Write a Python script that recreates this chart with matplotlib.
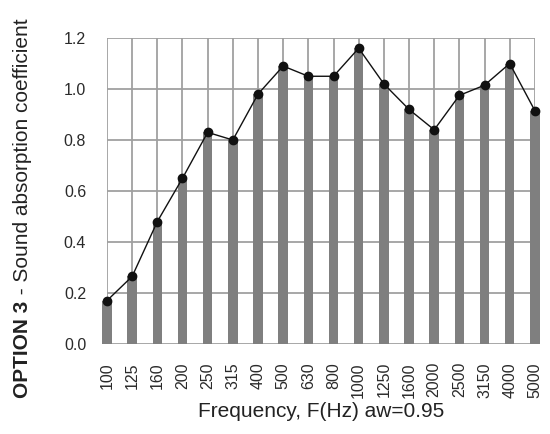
import matplotlib
matplotlib.use("Agg")
import matplotlib.pyplot as plt

plt.rcParams['font.family'] = ['Liberation Sans', 'DejaVu Sans']

# third-octave bands and measured absorption
freqs = ['100', '125', '160', '200', '250', '315', '400', '500', '630', '800',
         '1000', '1250', '1600', '2000', '2500', '3150', '4000', '5000']
alpha = [0.17, 0.265, 0.48, 0.65, 0.83, 0.80, 0.98, 1.09, 1.05, 1.05,
         1.16, 1.02, 0.92, 0.84, 0.975, 1.015, 1.10, 0.915]
yticks = [0.0, 0.2, 0.4, 0.6, 0.8, 1.0, 1.2]

fig = plt.figure(figsize=(5.5, 4.34), dpi=100)
ax = fig.add_axes([0.1945, 0.2074, 0.778, 0.705])

x = list(range(len(freqs)))
ax.bar(x, alpha, width=0.38, color='#7f7f7f', zorder=2, clip_on=False)
ax.plot(x, alpha, color='#111111', lw=1.0, marker='o', ms=6, zorder=3, clip_on=False)

ax.set_xlim(0, len(freqs) - 1)
ax.set_ylim(0, 1.2)
ax.set_xticks(x)
ax.set_xticklabels(freqs, rotation=90, fontsize=11.5, color='#2a2a2a')
ax.set_yticks(yticks)
ax.set_yticklabels(['%.1f' % v for v in yticks], fontsize=11.5, color='#2a2a2a')
ax.tick_params(length=0, pad=13)
ax.tick_params(axis='y', pad=15)
ax.grid(True, color='#a0a0a0', lw=1.3, zorder=0)
ax.set_axisbelow(True)
for s in ax.spines.values():
    s.set_visible(False)

ax.set_xlabel('Frequency, F(Hz) aw=0.95', fontsize=15, color='#222222', labelpad=3)

# y label: bold prefix + normal text
fig.canvas.draw()
r = fig.canvas.get_renderer()
t1 = fig.text(23 / 550, 1 - 398 / 434, 'OPTION 3', rotation=90, fontsize=15,
              fontweight='bold', color='#222222', ha='center', va='bottom')
bb = t1.get_window_extent(r)
t2 = fig.text(23 / 550, (bb.y1 + 1) / 434, ' - Sound absorption coefficient', rotation=90,
              fontsize=15, color='#222222', ha='center', va='bottom')

fig.savefig('out.png', dpi=100)
